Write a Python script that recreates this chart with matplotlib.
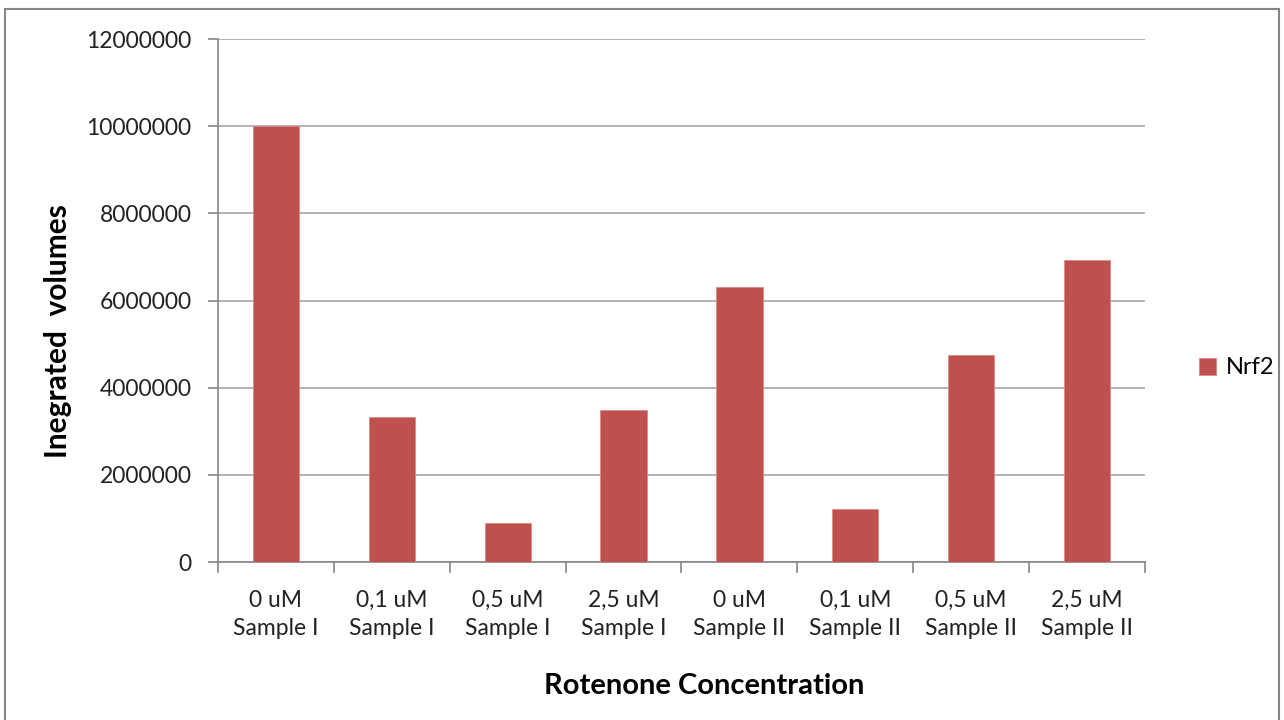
import matplotlib.pyplot as plt
import matplotlib.patches as patches
import numpy as np

categories = ["0 uM\nSample I", "0,1 uM\nSample I", "0,5 uM\nSample I", "2,5 uM\nSample I",
              "0 uM\nSample II", "0,1 uM\nSample II", "0,5 uM\nSample II", "2,5 uM\nSample II"]
nrf2 = [10000000, 3330000, 890000, 3480000, 6300000, 1210000, 4750000, 6920000]

plt.rcParams['font.family'] = ['Lato', 'DejaVu Sans']

fig = plt.figure(figsize=(12.84, 7.2), dpi=100)
ax = fig.add_axes([0.1698, 0.2194, 0.7219, 0.7264])

x = np.arange(len(categories))
bars = ax.bar(x, nrf2, width=0.4, color="#c0504d", label="Nrf2", zorder=3,
              edgecolor="#d88a88", linewidth=0.6)

ax.set_xlim(-0.5, len(categories) - 0.5)
ax.set_ylim(0, 12000000)
ax.set_yticks(np.arange(0, 12000001, 2000000))
ax.set_yticklabels([str(v) for v in range(0, 12000001, 2000000)], fontsize=16.5, color="#222222")
ax.yaxis.grid(True, color="#a6a6a6", linewidth=1.2, zorder=0)

ax.set_xticks(x)
ax.set_xticklabels(categories, fontsize=16.5, color="#222222", linespacing=1.45)
ax.set_xticks(np.arange(-0.5, len(categories)), minor=True)
ax.tick_params(axis="x", which="major", length=0, pad=20)
ax.tick_params(axis="x", which="minor", length=8, color="#868686", width=1.2)
ax.tick_params(axis="y", length=7, color="#868686", width=1.2, pad=12)

for s in ["top", "right"]:
    ax.spines[s].set_visible(False)
for s in ["left", "bottom"]:
    ax.spines[s].set_color("#868686")
    ax.spines[s].set_linewidth(1.2)

ax.set_ylabel("Inegrated  volumes", fontsize=21.5, fontweight="bold")
ax.set_xlabel("Rotenone Concentration", fontsize=21, fontweight="bold")
ax.yaxis.set_label_coords(-0.157, 0.442)
ax.xaxis.set_label_coords(0.524, -0.212)

leg = fig.legend(handles=[bars], labels=["Nrf2"], loc="center left",
                 bbox_to_anchor=(0.917, 0.489), frameon=False, fontsize=17,
                 handlelength=0.75, handleheight=0.75, handletextpad=0.4)

fig.patches.append(patches.Rectangle((0.004, -0.01), 0.992, 0.998, transform=fig.transFigure,
                                     fill=False, edgecolor="#868686", linewidth=1.5))

fig.savefig("out.png", dpi=100)
